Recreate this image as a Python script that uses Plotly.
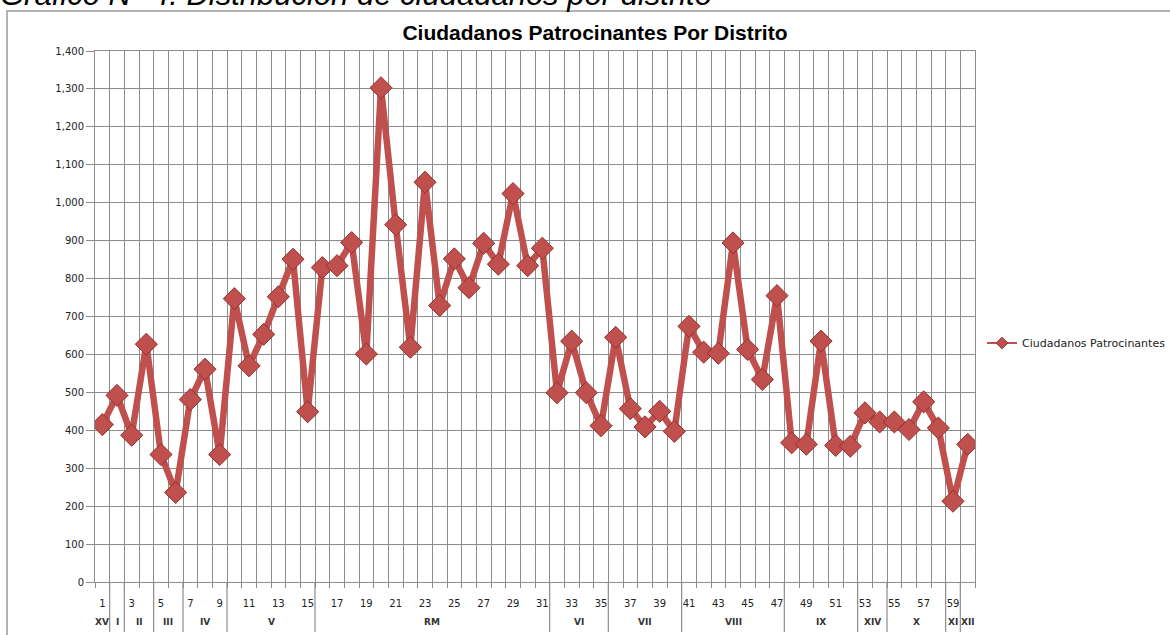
import plotly.graph_objects as go

districts = list(range(1, 61))
patrocinantes = [
    415, 492, 387, 627, 336, 236, 481, 561, 336, 747,
    570, 653, 752, 851, 449, 829, 834, 895, 601, 1303,
    942, 619, 1054, 729, 852, 776, 893, 838, 1024, 834,
    880, 499, 635, 499, 412, 645, 457, 409, 450, 397,
    674, 606, 603, 894, 613, 534, 755, 367, 363, 635,
    360, 358, 446, 422, 422, 402, 475, 406, 213, 363,
]
region_names = ["XV", "I", "II", "III", "IV", "V", "RM", "VI", "VII", "VIII",
                "IX", "XIV", "X", "XI", "XII"]
region_sizes = [1, 1, 2, 2, 3, 6, 16, 4, 5, 7, 5, 2, 4, 1, 1]
y_ticks = list(range(0, 1401, 100))
x_tick_labels = [d for d in districts if d % 2 == 1]

RED = "#C0504D"
GRID = "#8c8c8c"
SERIES = "Ciudadanos Patrocinantes"

fig = go.Figure()
fig.add_trace(go.Scatter(
    x=districts, y=patrocinantes, mode="lines+markers",
    name=SERIES, showlegend=False,
    line=dict(color=RED, width=6.5),
    marker=dict(symbol="diamond", size=17, color=RED,
                line=dict(color="#93302d", width=1)),
))
fig.add_trace(go.Scatter(
    x=[None], y=[None], mode="lines+markers", name=SERIES,
    line=dict(color=RED, width=2),
    marker=dict(symbol="diamond", size=9, color=RED,
                line=dict(color="#93302d", width=1)),
))

shapes = []
annotations = []
start = 0.5
boundaries = []
for name, size in zip(region_names, region_sizes):
    end = start + size
    annotations.append(dict(
        x=(start + end) / 2, xref="x", y=-0.0755, yref="paper",
        text=name, showarrow=False, xanchor="center", yanchor="middle",
        font=dict(family="DejaVu Sans", size=9, color="#333333", weight="bold"),
    ))
    boundaries.append(end)
    start = end
for b in boundaries[:-1]:
    shapes.append(dict(type="line", xref="x", yref="paper", x0=b, x1=b,
                       y0=0, y1=-0.094, line=dict(color=GRID, width=1.2)))

shapes.append(dict(type="rect", xref="paper", yref="paper",
                   x0=(7 - 95) / 880, x1=(1185 - 95) / 880,
                   y0=(582 - 645) / 531, y1=1 + (51 - 11) / 531,
                   line=dict(color="#9a9a9a", width=1.5), layer="below"))

annotations.append(dict(
    x=(-2 - 95) / 880, xref="paper", y=1 + (51 - 14) / 531, yref="paper",
    text="Gráfico N° 4: Distribución de ciudadanos por distrito",
    showarrow=False, xanchor="left", yanchor="bottom",
    font=dict(family="Liberation Sans", size=31, color="#000000", style="italic"),
))

fig.update_layout(
    width=1170, height=635,
    margin=dict(l=95, r=195, t=51, b=53, autoexpand=False),
    paper_bgcolor="white", plot_bgcolor="white",
    title=dict(text="<b>Ciudadanos Patrocinantes Por Distrito</b>",
               x=595 / 1170, xanchor="center", y=1 - 33 / 635, yanchor="middle",
               font=dict(family="Liberation Sans", size=21, color="#000000")),
    showlegend=True,
    legend=dict(x=(982 - 95) / 880, y=(582 - 343) / 531, xanchor="left",
                yanchor="middle", font=dict(family="DejaVu Sans", size=11, color="#222222"),
                bgcolor="rgba(0,0,0,0)", itemwidth=30),
    shapes=shapes, annotations=annotations,
    xaxis=dict(
        range=[0.5, 60.5], tickmode="array", tickvals=x_tick_labels,
        ticktext=[str(v) for v in x_tick_labels], showgrid=False,
        ticks="", ticklabelstandoff=12,
        tickfont=dict(family="DejaVu Sans", size=10, color="#222222"),
        showline=True, linecolor=GRID, mirror=True, zeroline=False,
        minor=dict(tick0=0.5, dtick=1, showgrid=True, gridcolor=GRID, gridwidth=1,
                   ticks="outside", ticklen=5, tickcolor=GRID),
    ),
    yaxis=dict(
        range=[0, 1400], tickmode="array", tickvals=y_ticks, tickformat=",",
        showgrid=True, gridcolor=GRID, gridwidth=1, zeroline=False,
        ticks="outside", ticklen=8, tickcolor=GRID,
        tickfont=dict(family="DejaVu Sans", size=10, color="#222222"),
        showline=True, linecolor=GRID, mirror=True,
    ),
)

fig.write_html("out.html", config={"displayModeBar": False},
               post_script="document.body.style.margin='0';document.body.style.overflow='hidden';")
